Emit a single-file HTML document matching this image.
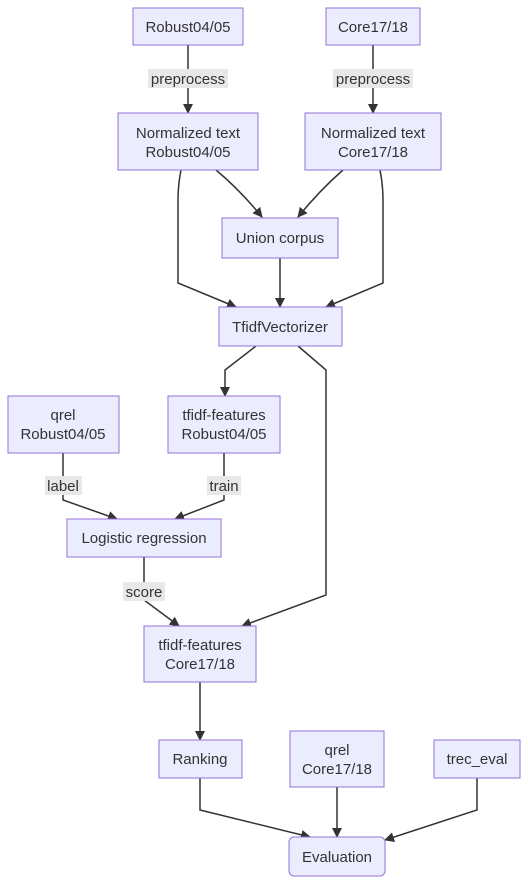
<!DOCTYPE html>
<html><head><meta charset="utf-8"><style>
html,body{margin:0;padding:0;background:#fff;}
svg{display:block}
text{font-family:"Liberation Sans",sans-serif;font-size:15px;fill:#333;text-anchor:middle;}
.n{fill:#ECECFF;stroke:#9370DB;stroke-width:1;}
.e{fill:none;stroke:#333;stroke-width:1.5;}
.lb{fill:#e8e8e8;}
</style></head><body>
<svg width="528" height="884" viewBox="0 0 528 884">
<defs><marker id="a" viewBox="0 0 10 10" refX="9" refY="5" markerWidth="10" markerHeight="10" orient="auto-start-reverse" markerUnits="userSpaceOnUse"><path d="M0,0L10,5L0,10z" fill="#333"/></marker></defs>
<g class="e" marker-end="url(#a)">
<path d="M188,45V113"/>
<path d="M373,45V113"/>
<path d="M216,170Q240,190 262,217"/>
<path d="M343,170Q320,190 298,217"/>
<path d="M181,170Q178,185 178,200V283L236,307"/>
<path d="M380,170Q383,185 383,200V283L326,307"/>
<path d="M280,258V307"/>
<path d="M256,346L225,370V396"/>
<path d="M298,346L326,370V595L242,626"/>
<path d="M63,453V500L117,519"/>
<path d="M224,453V500L175,519"/>
<path d="M144,557V600L179,626"/>
<path d="M200,682V740"/>
<path d="M200,778V810L310,837"/>
<path d="M337,787V837"/>
<path d="M477,778V810L385,840"/>
</g>
<g>
<rect class="lb" x="148" y="69" width="80" height="19"/><text x="188" y="84">preprocess</text>
<rect class="lb" x="333" y="69" width="80" height="19"/><text x="373" y="84">preprocess</text>
<rect class="lb" x="45" y="476" width="37" height="19"/><text x="63" y="491">label</text>
<rect class="lb" x="207" y="476" width="34" height="19"/><text x="224" y="491">train</text>
<rect class="lb" x="123" y="582" width="42" height="19"/><text x="144" y="597">score</text>
</g>
<rect class="n" x="133" y="8" width="110" height="37"/><text x="188" y="32">Robust04/05</text>
<rect class="n" x="326" y="8" width="94" height="37"/><text x="373" y="32">Core17/18</text>
<rect class="n" x="118" y="113" width="140" height="57"/><text x="188" y="138">Normalized text</text><text x="188" y="157">Robust04/05</text>
<rect class="n" x="305" y="113" width="136" height="57"/><text x="373" y="138">Normalized text</text><text x="373" y="157">Core17/18</text>
<rect class="n" x="222" y="218" width="116" height="40"/><text x="280" y="243">Union corpus</text>
<rect class="n" x="219" y="307" width="123" height="39"/><text x="280" y="332">TfidfVectorizer</text>
<rect class="n" x="8" y="396" width="111" height="57"/><text x="63" y="420">qrel</text><text x="63" y="439">Robust04/05</text>
<rect class="n" x="168" y="396" width="112" height="57"/><text x="224" y="420">tfidf-features</text><text x="224" y="439">Robust04/05</text>
<rect class="n" x="67" y="519" width="154" height="38"/><text x="144" y="543">Logistic regression</text>
<rect class="n" x="144" y="626" width="112" height="56"/><text x="200" y="650">tfidf-features</text><text x="200" y="669">Core17/18</text>
<rect class="n" x="159" y="740" width="83" height="38"/><text x="200" y="764">Ranking</text>
<rect class="n" x="290" y="731" width="94" height="56"/><text x="337" y="755">qrel</text><text x="337" y="774">Core17/18</text>
<rect class="n" x="434" y="740" width="86" height="38"/><text x="477" y="764">trec_eval</text>
<rect class="n" x="289" y="837" width="96" height="39" rx="5"/><text x="337" y="862">Evaluation</text>
</svg>
</body></html>
